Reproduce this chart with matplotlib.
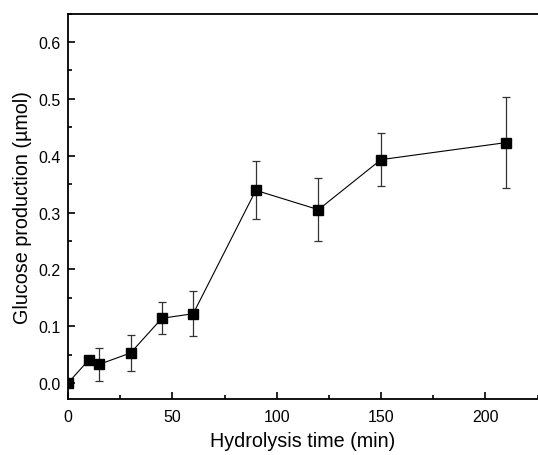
import matplotlib
matplotlib.use("Agg")
import matplotlib.pyplot as plt
from matplotlib.ticker import MultipleLocator


# -----------------------------
# Data
# -----------------------------

time_min = [0, 10, 15, 30, 45, 60, 90, 120, 150, 210]

glucose = [0.0, 0.041, 0.033, 0.053, 0.114, 0.122, 0.339, 0.305, 0.393, 0.423]

glucose_err = [0.0, 0.0, 0.029, 0.031, 0.028, 0.040, 0.051, 0.055, 0.047, 0.080]


plt.rcParams["font.family"] = ["Liberation Sans", "DejaVu Sans"]


fig = plt.figure(figsize=(5.38, 4.56), dpi=100)

# right edge of the axes runs off the picture, so no right spine shows
ax = fig.add_axes([0.1264, 0.1228, 0.8727, 0.8454])


ax.errorbar(
    time_min,
    glucose,
    yerr=glucose_err,
    fmt="s-",
    color="black",
    ecolor="#333333",
    elinewidth=0.9,
    capsize=3,
    capthick=0.9,
    markersize=7,
    linewidth=0.8,
)


ax.set_xlim(0, 225)
ax.set_ylim(-0.028, 0.65)

ax.xaxis.set_major_locator(MultipleLocator(50))
ax.xaxis.set_minor_locator(MultipleLocator(25))
ax.yaxis.set_major_locator(MultipleLocator(0.1))
ax.yaxis.set_minor_locator(MultipleLocator(0.05))

ax.yaxis.set_major_formatter(plt.FuncFormatter(lambda v, p: f"{v:.1f}"))

ax.tick_params(which="major", direction="in", length=5, width=1.2, labelsize=11.5)
ax.tick_params(which="minor", direction="in", length=3, width=1.2)
ax.tick_params(axis="x", which="major", pad=7.5)
ax.tick_params(axis="y", which="major", pad=5.5)

for spine in ax.spines.values():
    spine.set_linewidth(1.3)
ax.spines["right"].set_visible(False)

ax.set_xlabel("Hydrolysis time (min)", fontsize=14.2, labelpad=5)
ax.set_ylabel("Glucose production (µmol)", fontsize=14.2, labelpad=4)


fig.savefig("out.png", dpi=100)
plt.close(fig)
